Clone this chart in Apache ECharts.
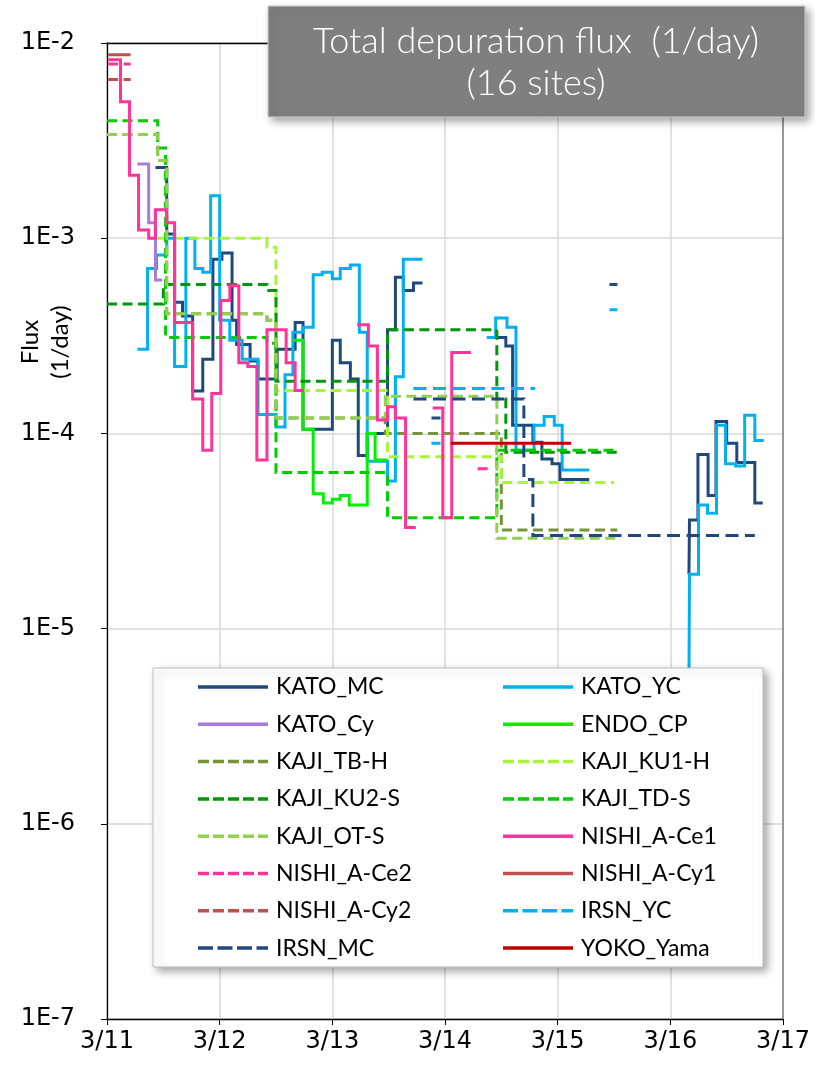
<!DOCTYPE html>
<html>
<head>
<meta charset="utf-8">
<script src="https://cdn.jsdelivr.net/npm/echarts@6/dist/echarts.min.js"></script>
<style>
  html, body { margin: 0; padding: 0; background: #fff; }
  #chart { width: 815px; height: 1076px; }
</style>
</head>
<body>
<div id="chart"></div>
<script>
// Axis tick labels
const xTickLabels = ['3/11', '3/12', '3/13', '3/14', '3/15', '3/16', '3/17'];
const yTickLabels = ['1E-7', '1E-6', '1E-5', '1E-4', '1E-3', '1E-2'];

// Depuration flux per site: [days after 3/11 00:00, flux (1/day)], held until the next point.
// A null value ends a run.
const KATO_MC = [
  [0.43, 2.3e-3], [0.53, 1.05e-3], [0.60, 4.7e-4], [0.67, 4.0e-4], [0.76, 1.65e-4], [0.85, 2.4e-4],
  [0.94, 7.8e-4], [1.02, 8.4e-4], [1.11, 3.8e-4], [1.15, 2.85e-4], [1.27, 2.35e-4], [1.34, 1.9e-4],
  [1.51, 2.7e-4], [1.67, 3.7e-4], [1.74, 1.05e-4], [2.00, 3.0e-4], [2.07, 2.3e-4], [2.16, 1.9e-4],
  [2.23, 7.7e-5], [2.31, 1.0e-4], [2.49, 3.4e-4], [2.56, 6.3e-4], [2.63, 5.4e-4], [2.72, 5.9e-4],
  [2.80, 5.9e-4], [2.80, null],
  [3.44, 3.1e-4], [3.54, 2.8e-4], [3.60, 1.1e-4], [3.78, 9.0e-5], [3.86, 7.4e-5], [3.95, 7.0e-5],
  [4.02, 5.8e-5], [4.28, 5.8e-5], [4.28, null],
  [5.165, 1.9e-5], [5.17, 3.6e-5], [5.245, 7.8e-5], [5.335, 4.8e-5], [5.405, 1.15e-4], [5.50, 8.9e-5],
  [5.59, 7.1e-5], [5.75, 4.4e-5], [5.82, 4.4e-5]
];
const KATO_YC = [
  [0.27, 2.7e-4], [0.36, 7.0e-4], [0.44, 8.2e-4], [0.53, 1.0e-3], [0.60, 2.2e-4], [0.70, 1.0e-3],
  [0.78, 7.0e-4], [0.85, 6.7e-4], [0.92, 1.65e-3], [1.00, 3.8e-4], [1.09, 3.0e-4], [1.20, 2.4e-4],
  [1.34, 1.25e-4], [1.50, 1.08e-4], [1.58, 2.0e-4], [1.65, 3.3e-4], [1.74, 3.5e-4], [1.83, 6.5e-4],
  [1.91, 6.7e-4], [2.00, 6.2e-4], [2.07, 7.0e-4], [2.16, 7.3e-4], [2.24, 3.3e-4], [2.31, 7.2e-5],
  [2.49, 5.7e-5], [2.56, 1.95e-4], [2.63, 7.8e-4], [2.80, 7.8e-4], [2.80, null],
  [3.37, 3.1e-4], [3.45, 3.9e-4], [3.55, 3.5e-4], [3.63, 8.2e-5], [3.79, 1.1e-4], [3.88, 1.22e-4],
  [3.97, 1.1e-4], [4.04, 6.5e-5], [4.28, 6.5e-5], [4.28, null],
  [5.165, 5.0e-6], [5.17, 1.9e-5], [5.25, 4.3e-5], [5.33, 3.9e-5], [5.41, 1.1e-4], [5.49, 7.0e-5],
  [5.58, 6.8e-5], [5.66, 1.24e-4], [5.75, 9.2e-5], [5.83, 9.2e-5]
];
const KATO_Cy = [[0.27, 2.4e-3], [0.37, 1.2e-3], [0.43, 6.1e-4], [0.49, 6.1e-4]];
const ENDO_CP = [
  [1.65, 3.0e-4], [1.74, 1.05e-4], [1.83, 4.9e-5], [1.92, 4.4e-5], [2.00, 4.6e-5], [2.07, 4.8e-5],
  [2.15, 4.3e-5], [2.31, 1.0e-4], [2.38, 7.3e-5], [2.49, 7.3e-5]
];
const KAJI_TB_H = [
  [0.00, 3.4e-3], [0.45, 2.5e-3], [0.53, 4.1e-4], [1.42, 3.8e-4], [1.50, 1.2e-4], [2.47, 1.0e-4],
  [3.50, 3.2e-5], [4.53, 3.2e-5]
];
const KAJI_KU1_H = [
  [0.45, 1.0e-3], [1.42, 9.0e-4], [1.50, 1.66e-4], [2.49, 7.6e-5], [3.50, 5.6e-5], [4.50, 5.6e-5]
];
const KAJI_KU2_S = [
  [0.00, 4.6e-4], [0.50, 5.8e-4], [1.42, 5.4e-4], [1.50, 1.85e-4], [2.49, 3.4e-4], [3.46, 1.5e-4],
  [3.54, 8.0e-5], [4.53, 8.0e-5]
];
const KAJI_TD_S = [
  [0.00, 4.0e-3], [0.45, 2.9e-3], [0.52, 3.1e-4], [1.42, 2.9e-4], [1.50, 6.3e-5], [2.49, 3.7e-5],
  [3.46, 8.2e-5], [4.53, 8.2e-5]
];
const KAJI_OT_S = [
  [0.00, 3.4e-3], [0.45, 2.5e-3], [0.53, 4.1e-4], [1.42, 3.8e-4], [1.50, 1.2e-4], [2.47, 1.55e-4],
  [3.46, 2.9e-5], [4.53, 2.9e-5]
];
const NISHI_A_Ce1 = [
  [0.01, 8.2e-3], [0.12, 5.0e-3], [0.20, 2.1e-3], [0.28, 1.1e-3], [0.37, 1.0e-3], [0.43, 1.4e-3],
  [0.53, 1.2e-3], [0.60, 3.7e-4], [0.76, 1.5e-4], [0.85, 8.2e-5], [0.93, 1.6e-4], [1.01, 4.8e-4],
  [1.09, 5.7e-4], [1.17, 2.3e-4], [1.25, 2.2e-4], [1.33, 7.3e-5], [1.42, 3.4e-4], [1.59, 2.3e-4],
  [1.67, 1.66e-4], [1.75, 1.66e-4], [1.75, null],
  [2.22, 3.6e-4], [2.32, 2.8e-4], [2.40, 1.17e-4], [2.49, 1.37e-4], [2.56, 1.2e-4], [2.65, 3.3e-5],
  [2.74, 3.3e-5], [2.74, null],
  [2.89, 1.35e-4], [2.98, 3.7e-5], [3.06, 2.6e-4], [3.23, 2.6e-4]
];
const NISHI_A_Ce2 = [[0.01, 7.8e-3], [0.21, 7.8e-3], [0.21, null], [3.29, 6.6e-5], [3.38, 6.6e-5]];
const NISHI_A_Cy1 = [[0.01, 8.7e-3], [0.21, 8.7e-3]];
const NISHI_A_Cy2 = [[0.01, 6.5e-3], [0.21, 6.5e-3]];
const IRSN_YC = [
  [2.72, 1.7e-4], [3.80, 1.7e-4], [3.80, null], [2.88, 8.9e-5], [2.96, 8.9e-5], [2.96, null],
  [4.46, 4.3e-4], [4.53, 4.3e-4]
];
const IRSN_MC = [
  [2.72, 1.5e-4], [3.70, 5.8e-5], [3.78, 3.0e-5], [5.75, 3.0e-5], [5.75, null],
  [2.88, 1.2e-4], [2.96, 1.2e-4], [2.96, null], [4.46, 5.8e-4], [4.53, 5.8e-4]
];
const YOKO_Yama = [[3.05, 8.9e-5], [4.12, 8.9e-5]];

// Series order, names and line styles
const siteNames = [
  'KATO_MC', 'KATO_YC', 'KATO_Cy', 'ENDO_CP', 'KAJI_TB-H', 'KAJI_KU1-H', 'KAJI_KU2-S', 'KAJI_TD-S',
  'KAJI_OT-S', 'NISHI_A-Ce1', 'NISHI_A-Ce2', 'NISHI_A-Cy1', 'NISHI_A-Cy2', 'IRSN_YC', 'IRSN_MC', 'YOKO_Yama'
];
const siteData = [
  KATO_MC, KATO_YC, KATO_Cy, ENDO_CP, KAJI_TB_H, KAJI_KU1_H, KAJI_KU2_S, KAJI_TD_S,
  KAJI_OT_S, NISHI_A_Ce1, NISHI_A_Ce2, NISHI_A_Cy1, NISHI_A_Cy2, IRSN_YC, IRSN_MC, YOKO_Yama
];
const siteColors = [
  '#1f497d', '#00b0f0', '#a57dd6', '#00f000', '#77933c', '#a6f53c', '#00960a', '#00cc00',
  '#92d050', '#ff3399', '#ff3399', '#c0504d', '#c0504d', '#00b0f0', '#1f497d', '#c00000'
];
// 'solid', 'short' or 'long' dashes
const siteDash = [
  'solid', 'solid', 'solid', 'solid', 'short', 'short', 'short', 'short',
  'short', 'solid', 'short', 'solid', 'short', 'long', 'long', 'solid'
];

const dashPatterns = { solid: 'solid', short: [10, 5.5], long: [13, 6.5] };
const legendIcons = {
  solid: 'path://M0,0H70V3.5H0Z',
  short: 'path://M0,0H11V3.5H0Z M15,0H26V3.5H15Z M30,0H41V3.5H30Z M45,0H56V3.5H45Z M60,0H70V3.5H60Z',
  long: 'path://M0,0H15V3.5H0Z M19.5,0H34.5V3.5H19.5Z M39,0H54V3.5H39Z M58.5,0H70V3.5H58.5Z'
};

const FONT_UI = 'Lato, "Open Sans", sans-serif';
const FONT_AXIS = '"DejaVu Sans", Verdana, sans-serif';

const series = siteNames.map((name, i) => ({
  name: name,
  type: 'line',
  step: 'end',
  data: siteData[i],
  showSymbol: false,
  symbol: 'none',
  connectNulls: false,
  clip: true,
  z: 3 + i,
  lineStyle: {
    color: siteColors[i],
    width: 3,
    type: dashPatterns[siteDash[i]],
    cap: 'butt',
    join: 'miter'
  },
  itemStyle: { color: siteColors[i] },
  emphasis: { disabled: true }
}));

function legendColumn(indices, left) {
  return {
    data: indices.map((i) => ({ name: siteNames[i], icon: legendIcons[siteDash[i]] })),
    orient: 'vertical',
    left: left,
    top: 674,
    padding: 0,
    itemWidth: 70,
    itemHeight: 26,
    itemGap: 11.3,
    symbolKeepAspect: true,
    selectedMode: false,
    z: 60,
    textStyle: {
      fontFamily: FONT_UI,
      fontSize: 23,
      color: '#000',
      lineHeight: 26,
      padding: [0, 0, 0, 3]
    }
  };
}
const leftColumn = siteNames.map((_, i) => i).filter((i) => i % 2 === 0);
const rightColumn = siteNames.map((_, i) => i).filter((i) => i % 2 === 1);

const chart = echarts.init(document.getElementById('chart'), null, { renderer: 'canvas' });

const option = {
  animation: false,
  backgroundColor: '#fff',
  grid: { left: 107, right: 32, top: 43, bottom: 57, containLabel: false },
  xAxis: [
    {
      type: 'value', min: 0, max: 6, interval: 1, position: 'bottom',
      axisLine: { show: true, lineStyle: { color: '#000', width: 1.3 } },
      axisTick: { show: true, inside: false, length: 6, lineStyle: { color: '#000' } },
      axisLabel: {
        margin: 11,
        fontFamily: FONT_AXIS, fontSize: 24, color: '#000',
        formatter: (v) => xTickLabels[Math.round(v)]
      },
      splitLine: { show: true, lineStyle: { color: '#d9d9d9', width: 1.5 } }
    },
    {
      type: 'value', min: 0, max: 6, position: 'top',
      axisLine: { show: true, onZero: false, lineStyle: { color: '#000', width: 1.3 } },
      axisTick: { show: false }, axisLabel: { show: false }, splitLine: { show: false }
    }
  ],
  yAxis: [
    {
      type: 'log', logBase: 10, min: 1e-7, max: 1e-2, position: 'left',
      axisLine: { show: true, onZero: false, lineStyle: { color: '#000', width: 1.3 } },
      axisTick: { show: true, inside: false, length: 6, lineStyle: { color: '#000' } },
      axisLabel: {
        margin: 32,
        fontFamily: FONT_AXIS, fontSize: 24, color: '#000',
        formatter: (v) => yTickLabels[Math.round(Math.log10(v)) + 7]
      },
      splitLine: { show: true, lineStyle: { color: '#d9d9d9', width: 1.5 } },
      minorSplitLine: { show: false }
    },
    {
      type: 'log', logBase: 10, min: 1e-7, max: 1e-2, position: 'right',
      axisLine: { show: true, onZero: false, lineStyle: { color: '#7f7f7f', width: 1.5 } },
      axisTick: { show: false }, axisLabel: { show: false }, splitLine: { show: false }
    }
  ],
  legend: [legendColumn(leftColumn, 198), legendColumn(rightColumn, 503)],
  graphic: [
    {
      type: 'text', z: 10,
      x: 45, y: 342,
      rotation: Math.PI / 2,
      style: {
        text: 'Flux\n(1/day)',
        fontFamily: FONT_UI, fontSize: 24, fill: '#000',
        textAlign: 'center', textVerticalAlign: 'middle', lineHeight: 30
      }
    },
    {
      type: 'rect', z: 50,
      shape: { x: 153, y: 668, width: 610, height: 299 },
      style: {
        fill: '#fff', stroke: '#bfbfbf', lineWidth: 1,
        shadowBlur: 8, shadowOffsetX: 4, shadowOffsetY: 4, shadowColor: 'rgba(0,0,0,0.35)'
      }
    },
    {
      type: 'rect', z: 50,
      shape: { x: 268, y: 6, width: 537, height: 111 },
      style: {
        fill: '#7f7f7f', stroke: '#d0d0d0', lineWidth: 1,
        shadowBlur: 8, shadowOffsetX: 4, shadowOffsetY: 4, shadowColor: 'rgba(0,0,0,0.35)'
      }
    },
    {
      type: 'text', z: 55, x: 536, y: 62,
      style: {
        text: 'Total depuration flux  (1/day)\n(16 sites)',
        fontFamily: FONT_UI, fontSize: 36, fontWeight: 300, fill: '#fff',
        textAlign: 'center', textVerticalAlign: 'middle', lineHeight: 42
      }
    }
  ],
  series: series
};

chart.setOption(option);
</script>
</body>
</html>
